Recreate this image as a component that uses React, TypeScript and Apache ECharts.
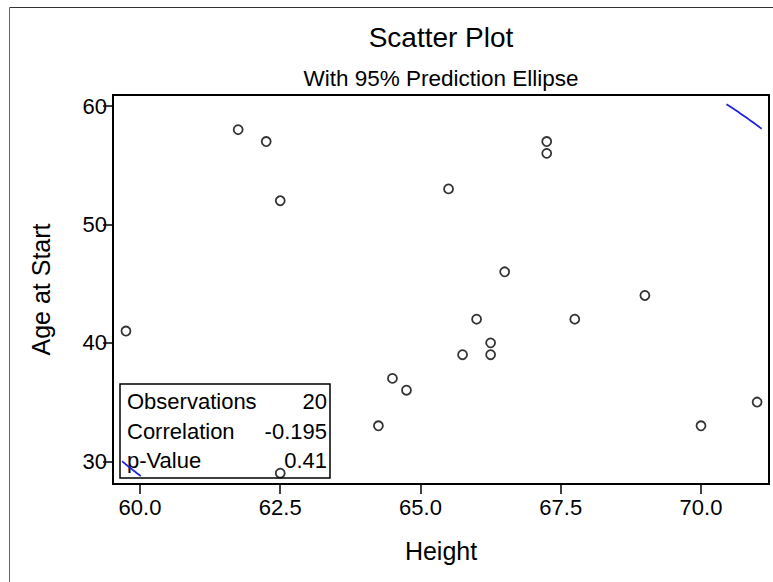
import React, { useEffect, useRef } from "react";
import * as echarts from "echarts";

// Observations: height (in) vs. age at start (yr)
const heights = [59.75, 61.75, 62.25, 62.5, 62.5, 64.25, 64.5, 64.75, 65.5, 65.75, 66, 66.25, 66.25, 66.5, 67.25, 67.25, 67.75, 69, 70, 71];
const ages = [41, 58, 57, 52, 29, 33, 37, 36, 53, 39, 42, 40, 39, 46, 57, 56, 42, 44, 33, 35];

const xTicks = [60, 62.5, 65, 67.5, 70];
const yTicks = [30, 40, 50, 60];

const statLabels = ["Observations", "Correlation", "p-Value"];
const statValues = ["20", "-0.195", "0.41"];

const FONT = "'Liberation Sans', Arial, Helvetica, sans-serif";

// Axis view ranges
const X_MIN = 59.519;
const X_MAX = 71.212;
const Y_MIN = 28.083;
const Y_MAX = 60.929;

// Region the ellipse outline is drawn within (data units)
const CLIP = { x0: 59.68, x1: 71.08, y0: 28.75, y1: 60.15 };

// 95% prediction ellipse from sample mean and covariance
function predictionEllipse(xs: number[], ys: number[], level: number, steps: number): number[][] {
  const n = xs.length;
  const mx = xs.reduce((a, b) => a + b, 0) / n;
  const my = ys.reduce((a, b) => a + b, 0) / n;
  let sxx = 0, syy = 0, sxy = 0;
  for (let i = 0; i < n; i++) {
    const dx = xs[i] - mx;
    const dy = ys[i] - my;
    sxx += dx * dx;
    syy += dy * dy;
    sxy += dx * dy;
  }
  sxx /= n - 1;
  syy /= n - 1;
  sxy /= n - 1;
  const d2 = n - 2;
  // F(level; 2, n-2) quantile has a closed form for 2 numerator df
  const f = (d2 / 2) * (Math.pow(1 - level, -2 / d2) - 1);
  const c = (2 * (n + 1) * (n - 1)) / (n * (n - 2)) * f;
  const r = Math.sqrt(c);
  const l11 = Math.sqrt(sxx);
  const l21 = sxy / l11;
  const l22 = Math.sqrt(syy - l21 * l21);
  const pts: number[][] = [];
  for (let k = 0; k <= steps; k++) {
    const t = (2 * Math.PI * k) / steps;
    const u = r * Math.cos(t);
    const v = r * Math.sin(t);
    pts.push([mx + l11 * u, my + l21 * u + l22 * v]);
  }
  return pts;
}

// Liang–Barsky clip of one segment
function clipSegment(p: number[], q: number[]): number[][] | null {
  let t0 = 0, t1 = 1;
  const dx = q[0] - p[0];
  const dy = q[1] - p[1];
  const checks: [number, number][] = [
    [-dx, p[0] - CLIP.x0],
    [dx, CLIP.x1 - p[0]],
    [-dy, p[1] - CLIP.y0],
    [dy, CLIP.y1 - p[1]],
  ];
  for (const [pp, qq] of checks) {
    if (pp === 0) {
      if (qq < 0) return null;
    } else {
      const t = qq / pp;
      if (pp < 0) {
        if (t > t1) return null;
        if (t > t0) t0 = t;
      } else {
        if (t < t0) return null;
        if (t < t1) t1 = t;
      }
    }
  }
  return [
    [p[0] + t0 * dx, p[1] + t0 * dy],
    [p[0] + t1 * dx, p[1] + t1 * dy],
  ];
}

function clipPolyline(pts: number[][]): number[][][] {
  const segs: number[][][] = [];
  let cur: number[][] | null = null;
  for (let i = 0; i < pts.length - 1; i++) {
    const s = clipSegment(pts[i], pts[i + 1]);
    if (!s) {
      if (cur) segs.push(cur);
      cur = null;
      continue;
    }
    if (!cur) cur = [s[0]];
    cur.push(s[1]);
    const endsInside =
      Math.abs(s[1][0] - pts[i + 1][0]) < 1e-12 && Math.abs(s[1][1] - pts[i + 1][1]) < 1e-12;
    if (!endsInside) {
      segs.push(cur);
      cur = null;
    }
  }
  if (cur) segs.push(cur);
  return segs;
}

export default function App() {
  const ref = useRef<HTMLDivElement>(null);

  useEffect(() => {
    if (!ref.current) return;
    const chart = echarts.init(ref.current, undefined, { renderer: "svg" });

    const points = heights.map((h, i) => [h, ages[i]]);
    const ellipseParts = clipPolyline(predictionEllipse(heights, ages, 0.95, 1440));

    const boxLeft = 120;
    const boxTop = 384;
    const boxW = 210;
    const boxH = 94;
    const rowY = [401, 431, 460];

    const statGraphics: any[] = [];
    statLabels.forEach((label, i) => {
      statGraphics.push({
        type: "text",
        x: boxLeft + 7,
        y: rowY[i],
        style: {
          text: label,
          font: `22px ${FONT}`,
          fill: "#000",
          textAlign: "left",
          textVerticalAlign: "middle",
        },
      });
      statGraphics.push({
        type: "text",
        x: boxLeft + boxW - 3,
        y: rowY[i],
        style: {
          text: statValues[i],
          font: `22px ${FONT}`,
          fill: "#000",
          textAlign: "right",
          textVerticalAlign: "middle",
        },
      });
    });

    chart.setOption({
      animation: false,
      backgroundColor: "#fff",
      textStyle: { fontFamily: FONT },
      title: [
        {
          text: "Scatter Plot",
          left: 441,
          top: 23,
          textAlign: "center",
          padding: 0,
          textStyle: { fontSize: 28, fontWeight: "normal", color: "#000", fontFamily: FONT },
        },
        {
          text: "With 95% Prediction Ellipse",
          left: 441,
          top: 67,
          textAlign: "center",
          padding: 0,
          textStyle: { fontSize: 22.5, fontWeight: "normal", color: "#000", fontFamily: FONT },
        },
      ],
      grid: {
        left: 113,
        top: 95,
        right: 4,
        bottom: 98,
        show: true,
        borderColor: "#000",
        borderWidth: 2,
        containLabel: false,
        outerBoundsMode: "none",
      },
      xAxis: {
        type: "value",
        min: X_MIN,
        max: X_MAX,
        name: "Height",
        nameLocation: "middle",
        nameGap: 54,
        nameTextStyle: { fontSize: 25, color: "#000", fontFamily: FONT },
        splitLine: { show: false },
        axisLine: { show: true, onZero: false, lineStyle: { color: "#000", width: 2 } },
        axisTick: { show: true, length: 10, customValues: xTicks, lineStyle: { color: "#000", width: 1.5 } },
        axisLabel: {
          customValues: xTicks,
          margin: 12,
          fontSize: 22,
          color: "#000",
          fontFamily: FONT,
          formatter: (v: number) => v.toFixed(1),
        },
      },
      yAxis: {
        type: "value",
        min: Y_MIN,
        max: Y_MAX,
        name: "Age at Start",
        nameLocation: "middle",
        nameGap: 60,
        nameTextStyle: { fontSize: 25, color: "#000", fontFamily: FONT },
        splitLine: { show: false },
        axisLine: { show: true, onZero: false, lineStyle: { color: "#000", width: 2 } },
        axisTick: { show: true, length: 10, customValues: yTicks, lineStyle: { color: "#000", width: 1.5 } },
        axisLabel: {
          customValues: yTicks,
          margin: 6,
          fontSize: 22,
          color: "#000",
          fontFamily: FONT,
        },
      },
      graphic: [
        // page edge lines (top and left)
        {
          type: "line",
          z: 0,
          silent: true,
          shape: { x1: 9.5, y1: 7.5, x2: 773, y2: 7.5 },
          style: { stroke: "#333", lineWidth: 1 },
        },
        {
          type: "line",
          z: 0,
          silent: true,
          shape: { x1: 9.5, y1: 7.5, x2: 9.5, y2: 582 },
          style: { stroke: "#666", lineWidth: 1 },
        },
        {
          type: "group",
          z: 0,
          children: [
            {
              type: "rect",
              shape: { x: boxLeft, y: boxTop, width: boxW, height: boxH },
              style: { fill: "#fff", stroke: "#000", lineWidth: 1.5 },
            },
            ...statGraphics,
          ],
        },
      ],
      series: [
        ...ellipseParts.map((part) => ({
          type: "line",
          data: part,
          showSymbol: false,
          symbol: "none",
          smooth: false,
          z: 3,
          lineStyle: { color: "#2222dd", width: 1.8 },
          silent: true,
        })),
        {
          type: "scatter",
          data: points,
          symbol: "circle",
          symbolSize: 9,
          z: 4,
          itemStyle: { color: "rgba(255,255,255,0)", borderColor: "#000", borderWidth: 1.8 },
        },
      ],
    });

    return () => chart.dispose();
  }, []);

  return (
    <div
      ref={ref}
      style={{ position: "absolute", left: 0, top: 0, width: 773, height: 582, background: "#fff" }}
    />
  );
}
